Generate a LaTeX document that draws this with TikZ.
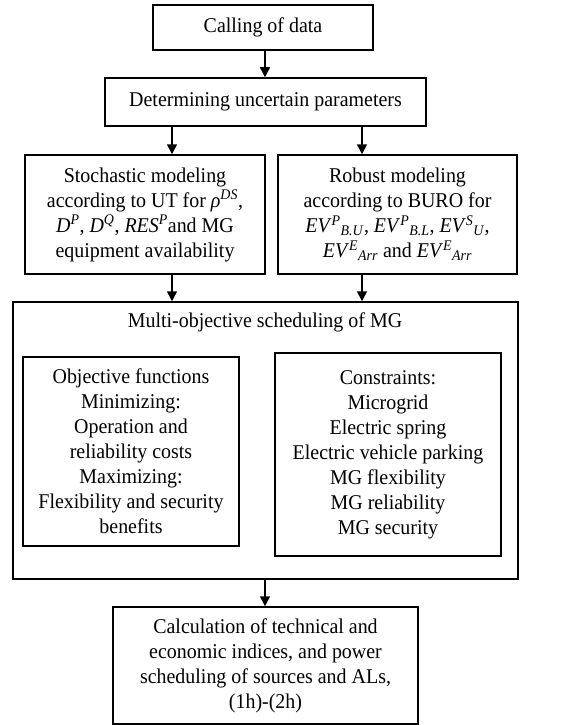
\documentclass[tikz,border=0pt]{standalone}
\usepackage{fontspec}
\setmainfont{Liberation Serif}[FakeStretch=0.95]
\usetikzlibrary{arrows.meta}
\begin{document}
\begin{tikzpicture}[x=1pt,y=-1pt,
  every node/.style={font=\fontsize{21}{25}\selectfont, align=center, inner sep=0pt},
  box/.style={draw, line width=1.5pt},
  arr/.style={line width=1.5pt, -{Triangle[length=10pt,width=10pt]}}]
\useasboundingbox (0,0) rectangle (569,725);
\node[box, minimum width=220, minimum height=45] (n1) at (263,27.5) {Calling of data};
\node[box, minimum width=321, minimum height=48] (n2) at (265.5,102) {Determining uncertain parameters};
\node[box, minimum width=240, minimum height=119] (n3L) at (145,214.5)
  {Stochastic modeling\\according to UT for \textit{ρ}\textsuperscript{\textit{DS}},\\
   \textit{D}\textsuperscript{\textit{P}}, \textit{D}\textsuperscript{\textit{Q}}, \textit{RES}\textsuperscript{\textit{P}}and MG\\equipment availability};
\node[box, minimum width=239, minimum height=119] (n3R) at (397.5,214.5)
  {Robust modeling\\according to BURO for\\
   \textit{EV}\textsuperscript{\textit{P}}\textsubscript{\textit{B.U}}, \textit{EV}\textsuperscript{\textit{P}}\textsubscript{\textit{B.L}}, \textit{EV}\textsuperscript{\textit{S}}\textsubscript{\textit{U}},\\
   \textit{EV}\textsuperscript{\textit{E}}\textsubscript{\textit{Arr}} and \textit{EV}\textsuperscript{\textit{E}}\textsubscript{\textit{Arr}}};
\node[box, minimum width=505, minimum height=277] (big) at (265.5,440.5) {};
\node (title) at (265,322) {Multi-objective scheduling of MG};
\node[box, minimum width=216, minimum height=189] (obj) at (131,451.5)
  {Objective functions\\Minimizing:\\Operation and\\reliability costs\\Maximizing:\\Flexibility and security\\benefits};
\node[box, minimum width=226, minimum height=203] (con) at (388,454.5)
  {Constraints:\\Microgrid\\Electric spring\\Electric vehicle parking\\MG flexibility\\MG reliability\\MG security};
\node[box, minimum width=305, minimum height=117] (last) at (265.5,665.5)
  {Calculation of technical and\\economic indices, and power\\scheduling of sources and ALs,\\(1h)-(2h)};
\coordinate (cm) at (265,0);
\coordinate (cl) at (172,0);
\coordinate (cr) at (362,0);
\draw[arr] (cm |- n1.south) -- (cm |- n2.north);
\draw[arr] (cl |- n2.south) -- (cl |- n3L.north);
\draw[arr] (cr |- n2.south) -- (cr |- n3R.north);
\draw[arr] (cl |- n3L.south) -- (cl |- big.north);
\draw[arr] (cr |- n3R.south) -- (cr |- big.north);
\draw[arr] (cm |- big.south) -- (cm |- last.north);
\end{tikzpicture}
\end{document}
